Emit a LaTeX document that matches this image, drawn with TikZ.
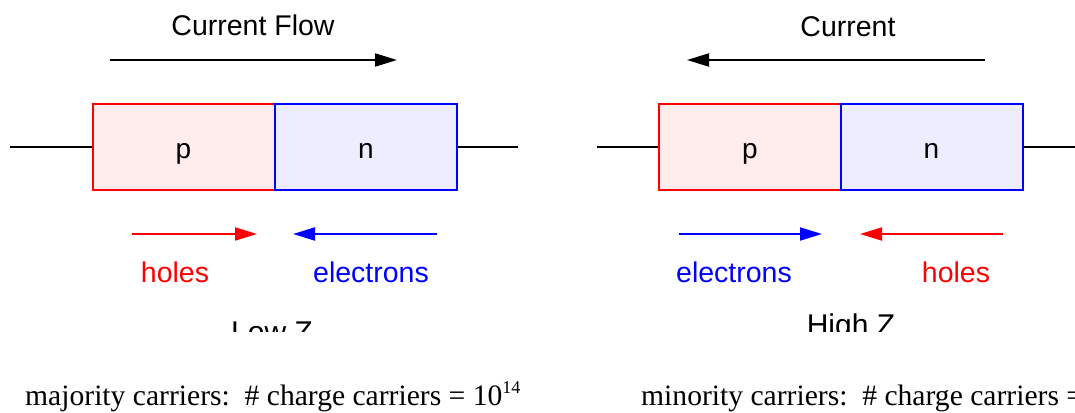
\documentclass[tikz,border=0pt]{standalone}
\usepackage{fontspec}
\setmainfont{Liberation Serif}
\newfontfamily\labelfont{Liberation Sans}
\usetikzlibrary{arrows.meta}

\begin{document}
\begin{tikzpicture}[x=1pt,y=-1pt,
    wire/.style={line width=2.2pt},
    junction/.style={draw,line width=2pt,minimum width=182pt,minimum height=86pt,inner sep=0pt,
                     text height=22pt,text depth=0pt,font=\labelfont\fontsize{28}{28}\selectfont},
    pside/.style={junction,draw=red,fill=red!7},
    nside/.style={junction,draw=blue,fill=blue!7},
    flow/.style={line width=2pt,-{Triangle[length=22pt,width=13pt]}},
    lbl/.style={font=\labelfont\fontsize{28.5}{28.5}\selectfont,inner sep=0pt,anchor=base},
    zlbl/.style={lbl,font=\labelfont\fontsize{30}{30}\selectfont},
    note/.style={font=\fontsize{29.6}{29.6}\selectfont,inner sep=0pt,anchor=base west}]
  \clip (0,0) rectangle (1075,412);
  % forward bias (left)
  \node[pside] (pL) at (183.5,147) {p};
  \node[nside] (nL) at (366,147) {n};
  \coordinate (wL1) at (10,147);
  \coordinate (wL2) at (517.5,147);
  \draw[wire] (wL1) -- (pL.west);
  \draw[wire] (nL.east) -- (wL2);
  \node[lbl] (curL) at (253,36) {Current Flow};
  \coordinate (cL1) at (110,60);
  \coordinate (cL2) at (397,60);
  \draw[flow] (cL1) -- (cL2);
  \coordinate (hL1) at (132,234);
  \coordinate (hL2) at (257,234);
  \coordinate (eL1) at (437,234);
  \coordinate (eL2) at (293,234);
  \draw[flow,red] (hL1) -- (hL2);
  \draw[flow,blue] (eL1) -- (eL2);
  \node[lbl,red] (holesL) at (175,282) {holes};
  \node[lbl,blue] (elecL) at (371,282) {electrons};
  \node[note] (majL) at (25,405.5) {majority carriers:\ \ \# charge carriers = 10\raisebox{0.42em}{\fontsize{18}{18}\selectfont 14}};
  % reverse bias (right)
  \node[pside] (pR) at (750,147) {p};
  \node[nside] (nR) at (931.5,147) {n};
  \coordinate (wR1) at (597,147);
  \coordinate (wR2) at (1080,147);
  \draw[wire] (wR1) -- (pR.west);
  \draw[wire] (nR.east) -- (wR2);
  \node[lbl] (curR) at (848,37) {Current};
  \coordinate (cR1) at (985,60);
  \coordinate (cR2) at (687,60);
  \draw[flow] (cR1) -- (cR2);
  \coordinate (eR1) at (679,234);
  \coordinate (eR2) at (822,234);
  \coordinate (hR1) at (1003,234);
  \coordinate (hR2) at (860,234);
  \draw[flow,blue] (eR1) -- (eR2);
  \draw[flow,red] (hR1) -- (hR2);
  \node[lbl,blue] (elecR) at (734,282) {electrons};
  \node[lbl,red] (holesR) at (956,282) {holes};
  \node[note] (minR) at (641,405.5) {minority carriers:\ \ \# charge carriers =};
  % impedance labels, cut off at the bottom
  \begin{scope}
    \clip (0,300) rectangle (1075,331.5);
    \node[zlbl] (lowZ) at (272,342) {Low Z};
    \node[zlbl] (highZ) at (851,335) {High Z};
  \end{scope}
\end{tikzpicture}
\end{document}
